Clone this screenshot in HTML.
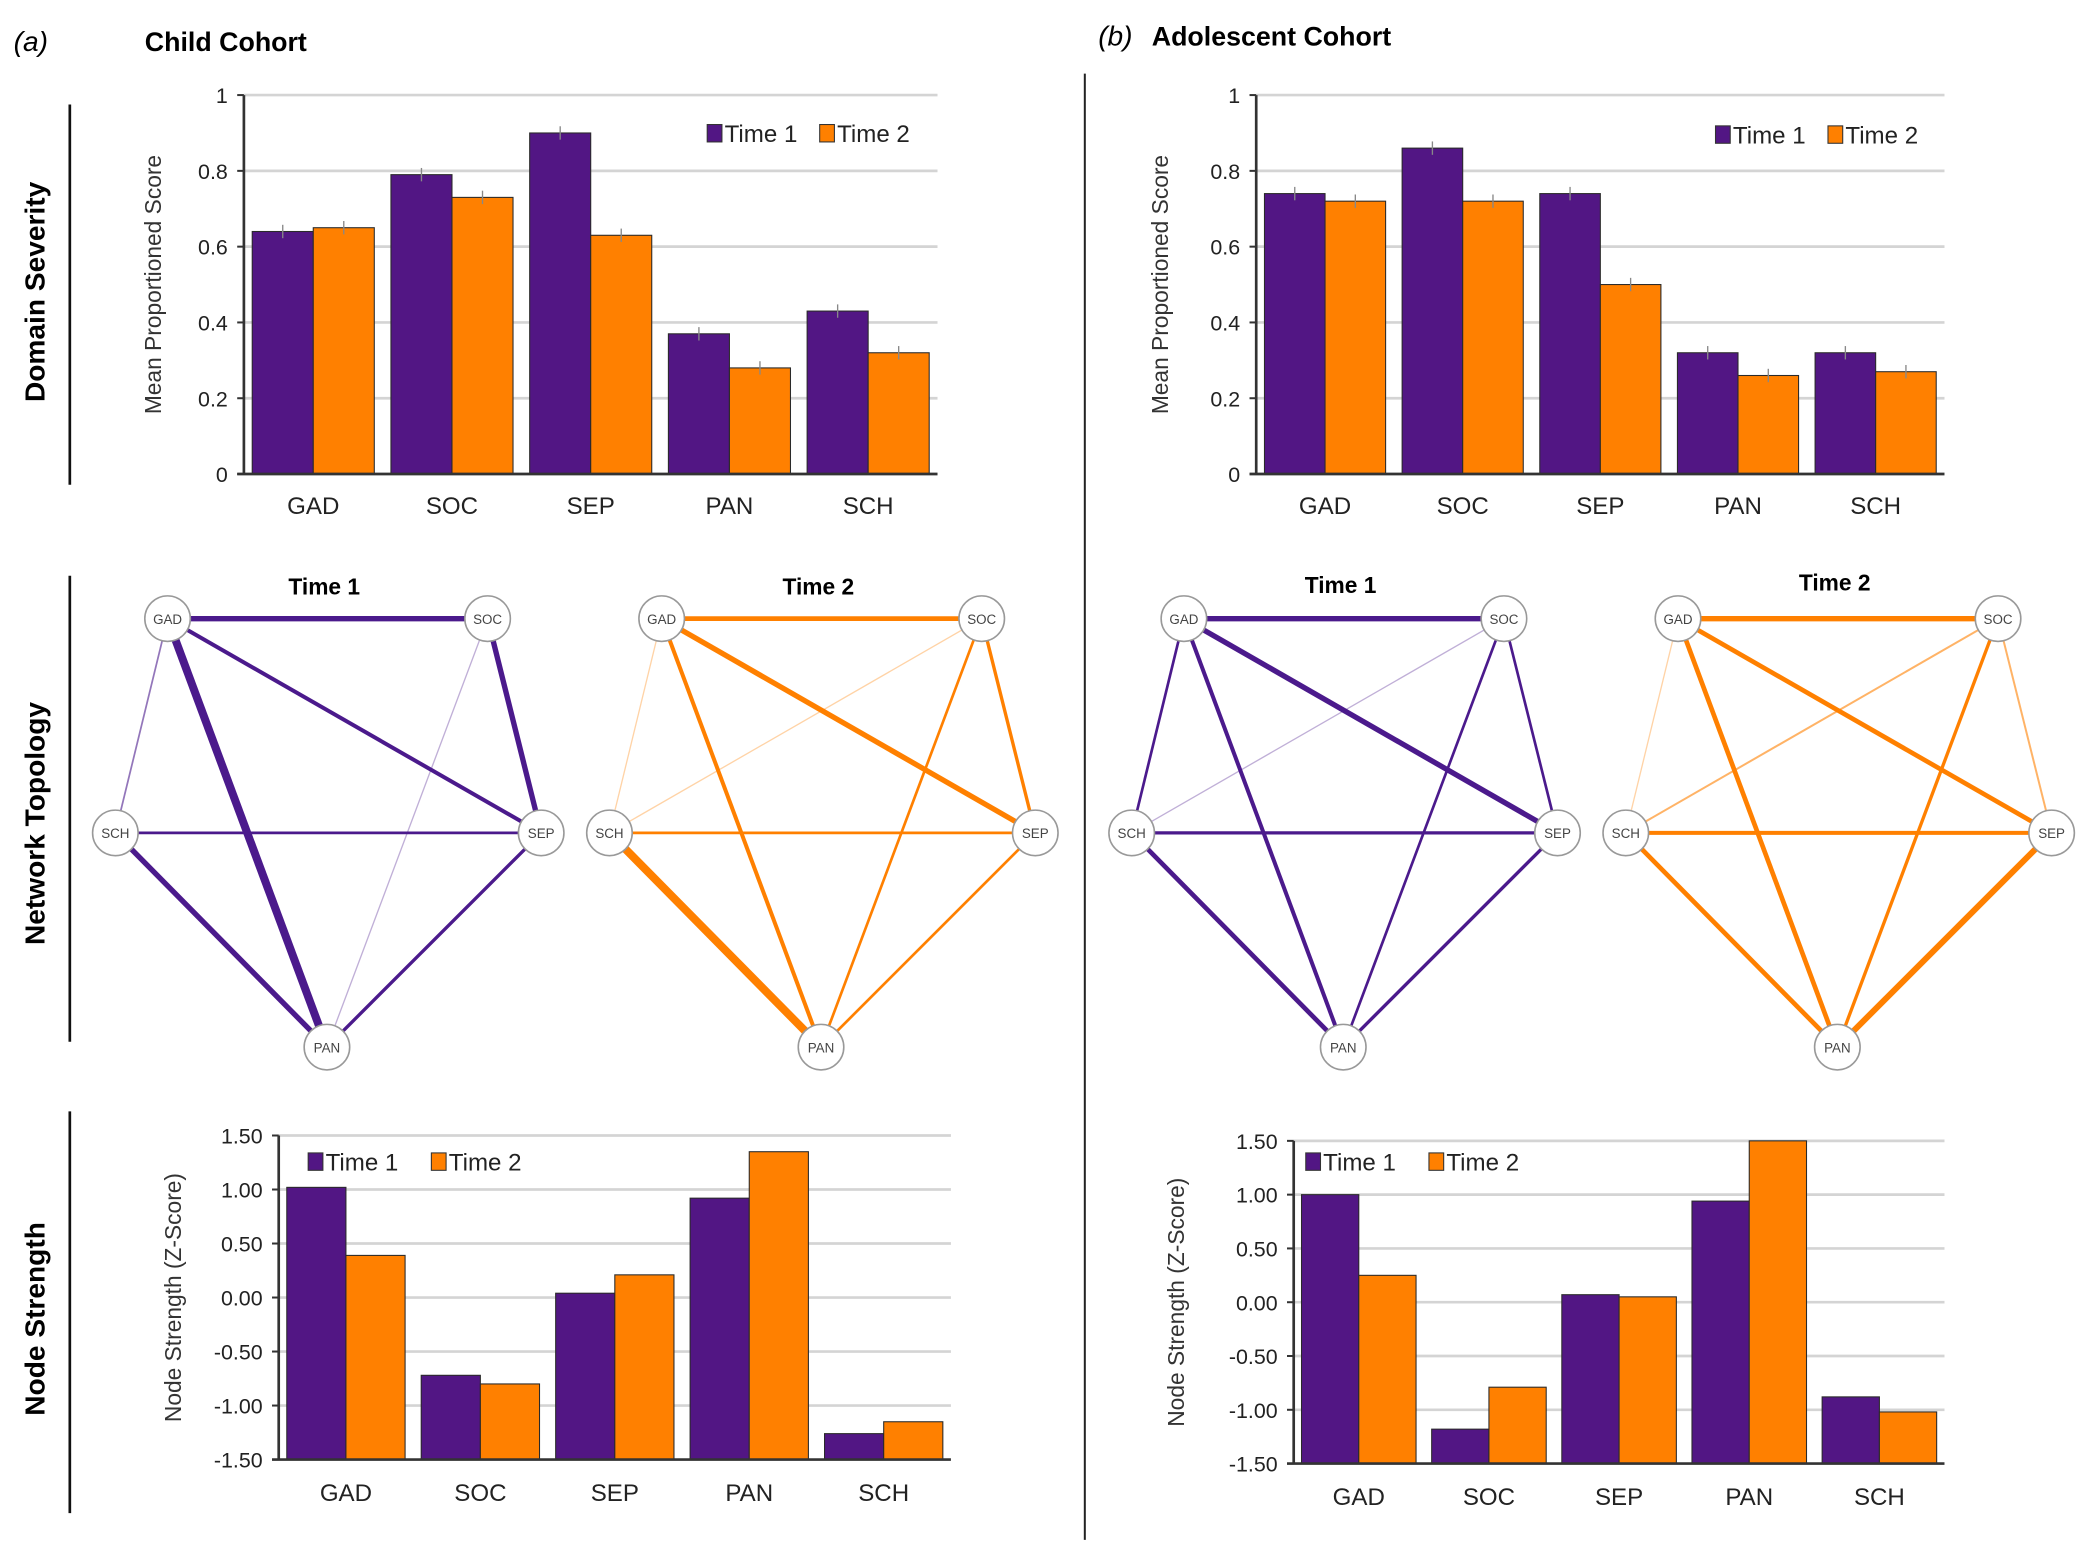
<!DOCTYPE html>
<html><head><meta charset="utf-8"><style>
html,body{margin:0;padding:0;background:#fff}
svg{display:block}
text{font-family:"Liberation Sans",Arial,sans-serif}
</style></head><body>
<svg id="fig" width="2100" height="1564" viewBox="0 0 1568 1168" xmlns="http://www.w3.org/2000/svg">
<g>
<text x="10" y="38" font-size="21" font-style="italic">(<tspan font-style="italic">a</tspan>)</text>
<text x="108" y="38" font-size="20" font-weight="bold">Child Cohort</text>
<text x="820" y="34" font-size="21" font-style="italic">(b)</text>
<text x="860" y="34" font-size="20" font-weight="bold">Adolescent Cohort</text>
<line x1="810" y1="55" x2="810" y2="1150" stroke="#222" stroke-width="1.5"/>
<line x1="52" y1="78" x2="52" y2="362" stroke="#111" stroke-width="2"/>
<line x1="52" y1="430" x2="52" y2="778" stroke="#111" stroke-width="2"/>
<line x1="52" y1="830" x2="52" y2="1130" stroke="#111" stroke-width="2"/>
<text transform="translate(33,218) rotate(-90)" font-size="21" font-weight="bold" text-anchor="middle">Domain Severity</text>
<text transform="translate(33,615) rotate(-90)" font-size="21" font-weight="bold" text-anchor="middle">Network Topology</text>
<text transform="translate(33,985) rotate(-90)" font-size="21" font-weight="bold" text-anchor="middle">Node Strength</text>
</g>
</svg>
<script>
const NS='http://www.w3.org/2000/svg';
const svg=document.getElementById('fig');
const PURPLE='#521684', ORANGE='#ff8000';
function mk(tag,attrs,parent){const e=document.createElementNS(NS,tag);for(const k in attrs)e.setAttribute(k,attrs[k]);(parent||svg).appendChild(e);return e;}

const categories=['GAD','SOC','SEP','PAN','SCH'];
const childSevT1=[0.64,0.79,0.90,0.37,0.43];
const childSevT2=[0.65,0.73,0.63,0.28,0.32];
const adolSevT1=[0.74,0.86,0.74,0.32,0.32];
const adolSevT2=[0.72,0.72,0.50,0.26,0.27];
const sevTicks=[0,0.2,0.4,0.6,0.8,1];
const sevTickLabels=['0','0.2','0.4','0.6','0.8','1'];
const childStrT1=[1.02,-0.72,0.04,0.92,-1.26];
const childStrT2=[0.39,-0.80,0.21,1.35,-1.15];
const adolStrT1=[1.00,-1.18,0.07,0.94,-0.88];
const adolStrT2=[0.25,-0.79,0.05,1.50,-1.02];
const strTicks=[-1.5,-1,-0.5,0,0.5,1,1.5];
const strTickLabels=['-1.50','-1.00','-0.50','0.00','0.50','1.00','1.50'];
const nodes=['GAD','SOC','SCH','SEP','PAN'];
const edgePairs=[['GAD','SOC'],['GAD','SEP'],['GAD','PAN'],['GAD','SCH'],['SOC','SCH'],['SOC','PAN'],['SOC','SEP'],['SCH','SEP'],['SCH','PAN'],['SEP','PAN']];
const childNetT1=[4,3,6,1.3,0,1,4,2,4,2.5];
const childNetT2=[3.5,4,3,1,1,2,2.5,2,6,2];
const adolNetT1=[4,4,3,2,1,2,2,2.5,3.5,2.5];
const adolNetT2=[4,3.5,3.5,1,1.5,2.5,1.5,3,3.5,4.5];

function barChart(cfg){
  const g=mk('g',{});
  
  
  const {x0,x1,yTop,yBot,min,max}=cfg;
  const y=v=>yBot-(v-min)/(max-min)*(yBot-yTop);
  const bw=(x1-x0)/categories.length;
  cfg.ticks.forEach((t,i)=>{
    const yy=y(t);
    if(i>0){const gl=mk('line',{x1:x0,x2:x1,y1:yy,y2:yy,stroke:'#d4d4d4','stroke-width':2},g);
      }
    const tk=mk('line',{x1:x0-5,x2:x0,y1:yy,y2:yy,stroke:'#333','stroke-width':1.5},g);
    
    const tl=mk('text',{x:x0-12,y:yy+6,'font-size':cfg.tickFont,'text-anchor':'end',fill:'#222'},g);
    tl.textContent=cfg.tickLabels[i];
    
  });
  const series=[[cfg.s1,PURPLE],[cfg.s2,ORANGE]];
  categories.forEach((c,i)=>{
    const cx=x0+bw*(i+0.5);
    const w=bw*0.44;
    series.forEach(([vals,col],k)=>{
      const bx=k===0?cx-w:cx;
      const yt=y(vals[i]);
      const r=mk('rect',{x:bx,y:yt,width:w,height:yBot-yt,fill:col,stroke:'#2a2a2a','stroke-width':0.8},g);
      
      
      if(cfg.err){const e=mk('line',{x1:bx+w/2,x2:bx+w/2,y1:yt-5,y2:yt+5,stroke:'#888','stroke-width':1},g);
        }
    });
    const lb=mk('text',{x:cx,y:yBot+cfg.catOff,'font-size':18,'text-anchor':'middle',fill:'#222'},g);
    lb.textContent=c;
    
  });
  const ax=mk('line',{x1:x0,x2:x0,y1:yTop,y2:yBot,stroke:'#333','stroke-width':2},g);
  
  const bx=mk('line',{x1:x0-5,x2:x1,y1:yBot,y2:yBot,stroke:'#333','stroke-width':2},g);
  
  const at=mk('text',{transform:`translate(${cfg.titleX},${(yTop+yBot)/2}) rotate(-90)`,'font-size':17,'text-anchor':'middle',fill:'#333'},g);
  at.textContent=cfg.title;
  
  // legend
  [['Time 1',PURPLE],['Time 2',ORANGE]].forEach(([t,col],k)=>{
    const lx=cfg.legX+k*cfg.legGap;
    const sw=mk('rect',{x:lx,y:cfg.legY-12,width:11,height:13,fill:col,stroke:'#333','stroke-width':0.8},g);
    
    const lt=mk('text',{x:lx+13,y:cfg.legY+1,'font-size':18,fill:'#222'},g);
    lt.textContent=t;
    
  });
}
barChart({name:'child-severity-chart',x0:182,x1:700,yTop:71,yBot:354,min:0,max:1,ticks:sevTicks,tickLabels:sevTickLabels,s1:childSevT1,s2:childSevT2,err:true,tickFont:16,catOff:30,title:'Mean Proportioned Score',titleX:120,legX:528,legY:105,legGap:84});
barChart({name:'adolescent-severity-chart',x0:938,x1:1452,yTop:71,yBot:354,min:0,max:1,ticks:sevTicks,tickLabels:sevTickLabels,s1:adolSevT1,s2:adolSevT2,err:true,tickFont:16,catOff:30,title:'Mean Proportioned Score',titleX:872,legX:1281,legY:106,legGap:84});
barChart({name:'child-strength-chart',x0:208,x1:710,yTop:848,yBot:1090,min:-1.5,max:1.5,ticks:strTicks,tickLabels:strTickLabels,s1:childStrT1,s2:childStrT2,err:false,tickFont:16,catOff:31,title:'Node Strength (Z-Score)',titleX:135,legX:230,legY:873,legGap:92});
barChart({name:'adolescent-strength-chart',x0:966,x1:1452,yTop:852,yBot:1093,min:-1.5,max:1.5,ticks:strTicks,tickLabels:strTickLabels,s1:adolStrT1,s2:adolStrT2,err:false,tickFont:16,catOff:31,title:'Node Strength (Z-Score)',titleX:884,legX:975,legY:873,legGap:92});

function network(name,ox,title,widths,col,titleY){
  const g=mk('g',{});
  
  
  const pos={GAD:[ox,462],SOC:[ox+239,462],SCH:[ox-39,622],SEP:[ox+279,622],PAN:[ox+119,782]};
  const tt=mk('text',{x:ox+117,y:titleY,'font-size':17,'font-weight':'bold','text-anchor':'middle'},g);
  tt.textContent=title;
  
  edgePairs.forEach((p,i)=>{
    const w=widths[i]; if(!w)return;
    const a=pos[p[0]],b=pos[p[1]];
    const op=w<=1?0.35:(w<1.6?0.6:1);
    const l=mk('line',{x1:a[0],y1:a[1],x2:b[0],y2:b[1],stroke:col,'stroke-width':w,'stroke-opacity':op},g);
    
    
  });
  nodes.forEach(n=>{
    const c=mk('circle',{cx:pos[n][0],cy:pos[n][1],r:17,fill:'#fff',stroke:'#999','stroke-width':1.2},g);
    
    const t=mk('text',{x:pos[n][0],y:pos[n][1]+4,'font-size':10,'text-anchor':'middle',fill:'#444'},g);
    t.textContent=n;
    
  });
}
network('child-network-time1',125,'Time 1',childNetT1,'#4b1a8c',444);
network('child-network-time2',494,'Time 2',childNetT2,ORANGE,444);
network('adolescent-network-time1',884,'Time 1',adolNetT1,'#4b1a8c',443);
network('adolescent-network-time2',1253,'Time 2',adolNetT2,ORANGE,441);
</script>
</body></html>
